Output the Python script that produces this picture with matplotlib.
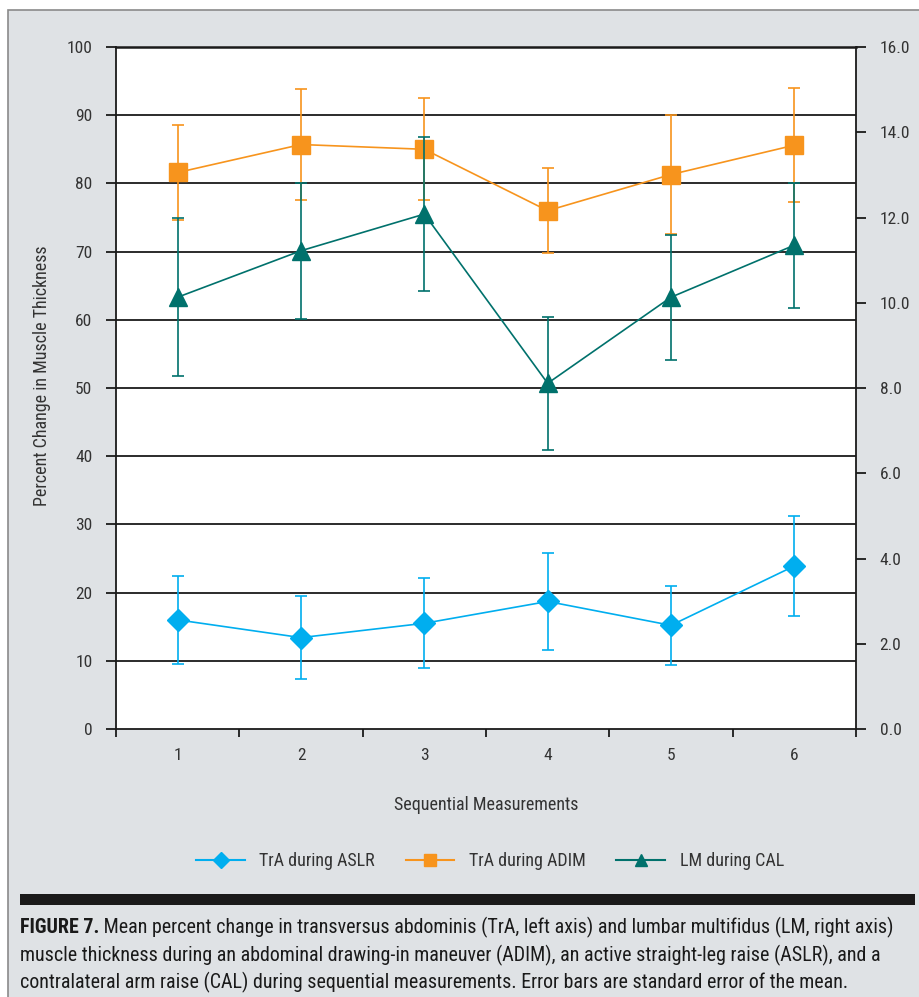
import matplotlib
matplotlib.use("Agg")
import matplotlib.pyplot as plt
from matplotlib import font_manager as fm
from matplotlib.patches import Rectangle
from matplotlib.lines import Line2D
from matplotlib.ticker import FixedLocator, NullFormatter, FixedFormatter, FormatStrFormatter

# ---------------- data ----------------
measurements = [1, 2, 3, 4, 5, 6]
x_labels = ["1", "2", "3", "4", "5", "6"]

aslr_mean = [16.0, 13.4, 15.5, 18.7, 15.2, 23.9]
aslr_err = [6.5, 6.1, 6.6, 7.1, 5.8, 7.4]

adim_mean = [81.6, 85.7, 85.0, 76.0, 81.3, 85.6]
adim_err = [6.9, 8.2, 7.5, 6.2, 8.7, 8.4]

cal_mean = [10.13, 11.22, 12.08, 8.11, 10.13, 11.35]
cal_err = [1.85, 1.60, 1.80, 1.56, 1.47, 1.47]

left_ticks = [0, 10, 20, 30, 40, 50, 60, 70, 80, 90, 100]
right_ticks = [0, 2, 4, 6, 8, 10, 12, 14, 16]

series_names = ["TrA during ASLR", "TrA during ADIM", "LM during CAL"]
caption_bold = "FIGURE 7."
caption_lines = [
    " Mean percent change in transversus abdominis (TrA, left axis) and lumbar multifidus (LM, right axis)",
    "muscle thickness during an abdominal drawing-in maneuver (ADIM), an active straight-leg raise (ASLR), and a",
    "contralateral arm raise (CAL) during sequential measurements. Error bars are standard error of the mean.",
]

# ---------------- fonts ----------------
avail = {f.name for f in fm.fontManager.ttflist}
font = "DejaVu Sans"
for cand in ["Liberation Sans Narrow", "Roboto Condensed", "Open Sans Condensed",
             "Noto Sans Condensed", "DejaVu Sans Condensed", "Liberation Sans"]:
    if cand in avail:
        font = cand
        break
plt.rcParams["font.family"] = [font, "DejaVu Sans"]

BLUE = "#00aeef"
ORANGE = "#f7941d"
TEAL = "#00716c"
BG = "#dfe2e5"
TXT = "#333333"
DARK = "#1a1a1a"

W, H = 919, 997
fig = plt.figure(figsize=(W / 100, H / 100), dpi=100, facecolor="white")

# background panel with border
fig.patches.append(Rectangle((8 / W, -0.01), 1 - 8 / W + 0.01, 1 - 10 / H + 0.01,
                             transform=fig.transFigure, facecolor=BG, edgecolor="#8a8a8a",
                             linewidth=1.2, zorder=-5))

ax = fig.add_axes([116 / W, 1 - 729 / H, (856 - 116) / W, (729 - 47) / H])
ax.set_facecolor("white")
ax2 = ax.twinx()
ax.set_zorder(1)
ax2.set_zorder(2)
ax2.patch.set_visible(False)

ax.set_xlim(0.5, 6.5)
ax.set_ylim(0, 100)
ax2.set_ylim(0, 16)

# horizontal grid lines (black)
for v in left_ticks[1:-1]:
    ax.axhline(v, color=DARK, lw=1.3, zorder=1)

for s in ["left", "right", "bottom", "top"]:
    ax.spines[s].set_color(DARK)
    ax.spines[s].set_linewidth(1.3)
    ax2.spines[s].set_visible(False)
ax.spines["top"].set_linewidth(1.8)

ax.set_yticks(left_ticks)
ax.set_yticklabels([str(v) for v in left_ticks])
ax2.set_yticks(right_ticks)
ax2.yaxis.set_major_formatter(FormatStrFormatter("%.1f"))

ax.xaxis.set_major_locator(FixedLocator([0.5, 1.5, 2.5, 3.5, 4.5, 5.5, 6.5]))
ax.xaxis.set_major_formatter(NullFormatter())
ax.xaxis.set_minor_locator(FixedLocator(measurements))
ax.xaxis.set_minor_formatter(FixedFormatter(x_labels))
ax.tick_params(axis="x", which="major", direction="out", length=6, width=1.3, color=DARK)
ax.tick_params(axis="x", which="minor", length=0, pad=14, labelsize=12.5, labelcolor=TXT)
ax.tick_params(axis="y", direction="out", length=7, width=1.3, color=DARK,
               labelsize=12.5, labelcolor=TXT, pad=10)
ax2.tick_params(axis="y", direction="out", length=7, width=1.3, color=DARK,
                labelsize=12.5, labelcolor=TXT, pad=10)

common = dict(capsize=4, elinewidth=1.2, capthick=1.2, linewidth=1.2)
h1 = ax.errorbar(measurements, aslr_mean, yerr=aslr_err, color=BLUE, marker="D",
                 markersize=11, zorder=3, **common)
h2 = ax.errorbar(measurements, adim_mean, yerr=adim_err, color=ORANGE, marker="s",
                 markersize=13.5, zorder=3, **common)
h3 = ax2.errorbar(measurements, cal_mean, yerr=cal_err, color=TEAL, marker="^",
                  markersize=13, zorder=3, **common)

fig.text(42 / W, 1 - 376 / H, "Percent Change in Muscle Thickness", rotation=90,
         ha="center", va="center", fontsize=13, color=TXT)
fig.text(486 / W, 1 - 805 / H, "Sequential Measurements", ha="center", va="center",
         fontsize=13, color=TXT)

lh = [Line2D([], [], color=BLUE, marker="D", markersize=8, lw=1.5),
      Line2D([], [], color=ORANGE, marker="s", markersize=9, lw=1.5),
      Line2D([], [], color=TEAL, marker="^", markersize=9, lw=1.5)]
fig.legend(lh, series_names, loc="center", bbox_to_anchor=(490 / W, 1 - 861 / H), ncol=3,
           frameon=False, fontsize=13, handlelength=2.7, handletextpad=0.8,
           columnspacing=1.7, labelcolor=TXT)

# thick black bar
fig.patches.append(Rectangle((20 / W, 1 - 905 / H), (915 - 20) / W, 11 / H,
                             transform=fig.transFigure, facecolor=DARK,
                             edgecolor="none", zorder=2))

# caption with width fitting
renderer = fig.canvas.get_renderer()
base_size = 15.0
target_w = 893 - 20
tb = fig.text(20 / W, 1 - 933 / H, caption_bold, fontsize=base_size, fontweight="bold",
              color=DARK, va="baseline", ha="left")
bw = tb.get_window_extent(renderer).width
tr = fig.text((20 + bw) / W, 1 - 933 / H, caption_lines[0], fontsize=base_size,
              color=DARK, va="baseline", ha="left")
rw = tr.get_window_extent(renderer).width
size = base_size * target_w / (bw + rw)
tb.set_fontsize(size)
bw = tb.get_window_extent(renderer).width
tr.set_fontsize(size)
tr.set_x((20 + bw) / W)
fig.text(20 / W, 1 - 961 / H, caption_lines[1], fontsize=size, color=DARK,
         va="baseline", ha="left")
fig.text(20 / W, 1 - 988 / H, caption_lines[2], fontsize=size, color=DARK,
         va="baseline", ha="left")

fig.savefig("out.png", dpi=100, facecolor=fig.get_facecolor())
